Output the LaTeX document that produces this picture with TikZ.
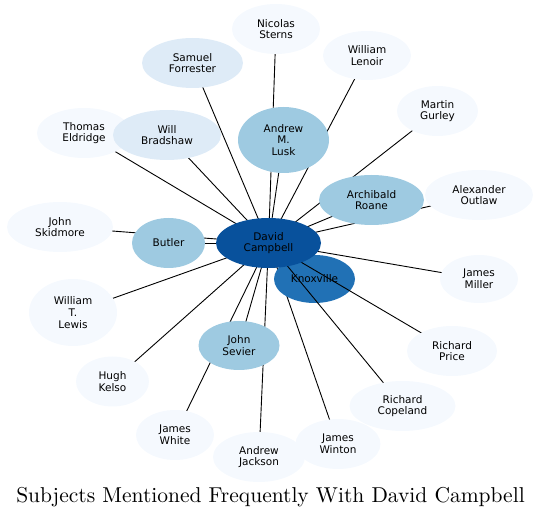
\documentclass[tikz,border=0pt]{standalone}
\usepackage{fontspec}
\newfontfamily\labfont{DejaVu Sans}
\newfontfamily\titlefont{lmroman10-regular}[Extension=.otf]
\usetikzlibrary{shapes.geometric}
\pgfdeclarelayer{edgesA}
\pgfdeclarelayer{knox}
\pgfdeclarelayer{edgesB}
\pgfsetlayers{edgesA,knox,edgesB,main}
\definecolor{c0}{HTML}{F5F9FE}
\definecolor{c1}{HTML}{DEEBF7}
\definecolor{c2}{HTML}{9ECAE1}
\definecolor{c3}{HTML}{2171B5}
\definecolor{c4}{HTML}{08519C}
\tikzset{
  bub/.style n args={3}{shape=ellipse, draw=none, fill=#3, inner sep=0pt,
     minimum width=#1*2pt, minimum height=#2*2pt},
  lab/.style={align=center, inner sep=0pt, font=\labfont\fontsize{10.5}{11.7}\selectfont, text=black},
  edge/.style={draw=black, line width=0.9pt},
}
\begin{document}
\begin{tikzpicture}[x=1pt,y=-1pt]
\useasboundingbox (0,0) rectangle (541,518);
% nodes
\node[bub={44}{25}{c0}] (ns) at (276,29) {};
\node[lab] (ns-t) at (ns) {Nicolas\\Sterns};
\node[bub={50.5}{25}{c1}] (sf) at (192.5,63) {};
\node[lab] (sf-t) at (sf) {Samuel\\Forrester};
\node[bub={44}{24.5}{c0}] (wl) at (367,55.5) {};
\node[lab] (wl-t) at (wl) {William\\Lenoir};
\node[bub={40.5}{25}{c0}] (mg) at (437.5,111) {};
\node[lab] (mg-t) at (mg) {Martin\\Gurley};
\node[bub={47}{25}{c0}] (te) at (84,133) {};
\node[lab] (te-t) at (te) {Thomas\\Eldridge};
\node[bub={54}{25}{c1}] (wb) at (167,135) {};
\node[lab] (wb-t) at (wb) {Will\\Bradshaw};
\node[bub={45.5}{33}{c2}] (aml) at (283.5,140) {};
\node[lab] (aml-t) at (aml) {Andrew\\M.\\Lusk};
\node[bub={52.5}{25}{c2}] (ar) at (371.5,200) {};
\node[lab] (ar-t) at (ar) {Archibald\\Roane};
\node[bub={54}{25}{c0}] (ao) at (479,195) {};
\node[lab] (ao-t) at (ao) {Alexander\\Outlaw};
\node[bub={53}{25}{c0}] (js) at (60,227) {};
\node[lab] (js-t) at (js) {John\\Skidmore};
\node[bub={36.5}{25}{c2}] (bu) at (168.5,243) {};
\node[lab] (bu-t) at (bu) {Butler};
\begin{pgfonlayer}{knox}
\node[bub={40.5}{24}{c3}] (kx) at (314.5,279) {};
\node[lab] (kx-t) at (kx) {Knoxville};
\end{pgfonlayer}
\node[bub={39}{24}{c0}] (jm) at (479,279) {};
\node[lab] (jm-t) at (jm) {James\\Miller};
\node[bub={44}{33.5}{c0}] (wtl) at (73,312.5) {};
\node[lab] (wtl-t) at (wtl) {William\\T.\\Lewis};
\node[bub={40.5}{24.5}{c2}] (jse) at (239,345.5) {};
\node[lab] (jse-t) at (jse) {John\\Sevier};
\node[bub={45}{25}{c0}] (rp) at (452,351) {};
\node[lab] (rp-t) at (rp) {Richard\\Price};
\node[bub={36.5}{25}{c0}] (hk) at (112.5,381.5) {};
\node[lab] (hk-t) at (hk) {Hugh\\Kelso};
\node[bub={53}{25}{c0}] (rc) at (402.5,406) {};
\node[lab] (rc-t) at (rc) {Richard\\Copeland};
\node[bub={39}{25}{c0}] (jw) at (175,435) {};
\node[lab] (jw-t) at (jw) {James\\White};
\node[bub={46}{25}{c0}] (aj) at (259,457) {};
\node[lab] (aj-t) at (aj) {Andrew\\Jackson};
\node[bub={42.5}{25}{c0}] (jwi) at (338,444) {};
\node[lab] (jwi-t) at (jwi) {James\\Winton};
\node[bub={52.5}{25}{c4}] (dc) at (268.5,243) {};
\node[lab] (dc-t) at (dc) {David\\Campbell};
% edges
\begin{pgfonlayer}{edgesA}
\foreach \n in {ns,sf,wl,mg,te,wb,aml,ar,ao,js,bu,kx,jm,wtl,jse,hk,jw,aj,jwi}
  \draw[edge] (dc.center) -- (\n.center);
\end{pgfonlayer}
\begin{pgfonlayer}{edgesB}
\foreach \n in {rp,rc}
  \draw[edge] (dc.center) -- (\n.center);
\end{pgfonlayer}
% title
\node[anchor=base, inner sep=0pt, font=\titlefont\fontsize{21.5}{24}\selectfont] (title) at (270.5,502.7)
  {Subjects Mentioned Frequently With David Campbell};
\end{tikzpicture}
\end{document}
